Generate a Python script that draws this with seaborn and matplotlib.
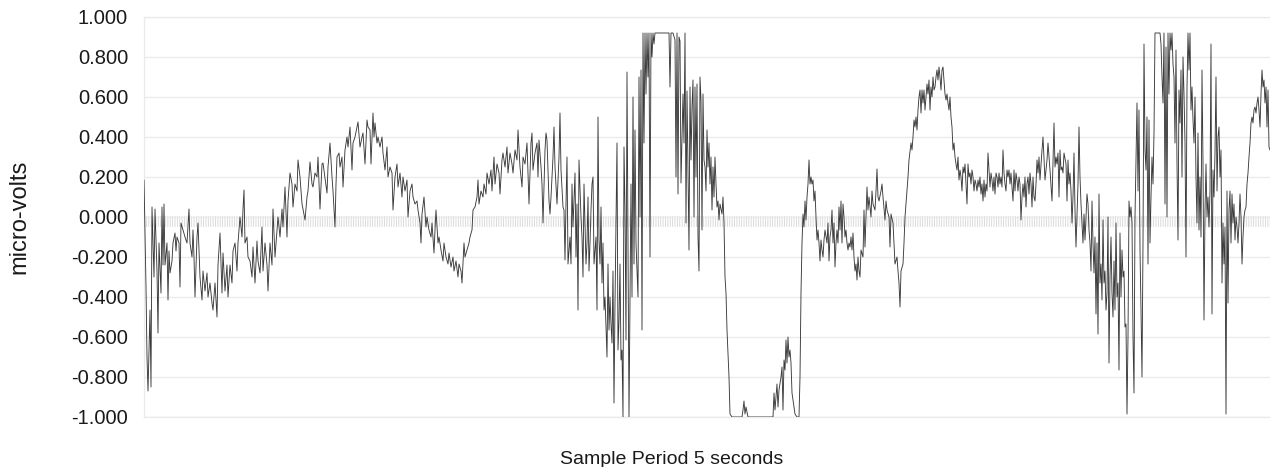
import numpy as np
import pandas as pd
import matplotlib
matplotlib.use("Agg")
import matplotlib.pyplot as plt
import seaborn as sns

# ---------------- data (sample index, micro-volts) ----------------
samples_a = [0,2,3,4,6,7,8,10,11,13,14,15,17,18,19,20,21,23,24,25,26,28,29,31,32,33,35,36,37,39,
             41,43,45,46,48,49,50,51,53,54,56,58,59,61,63,64,66,68,69,71,73,74,76,78,79,81,83,84,86,88,
             89,91,93,94,96,98,99,100,101,103,104,106,108,109,111,113,114,116,118,119,121,123,124,126,128,129,131,133,134,136,
             138,139,141,143,144,146,148,149,151,153,154,156,158,159,161,163,164,166,168,169,171,173,174,176,178]
volts_a = [0.185,-0.35,-0.70,-0.87,-0.465,-0.85,0.05,-0.30,0.04,-0.27,-0.58,-0.13,-0.38,0.05,-0.24,0.065,-0.24,-0.13,-0.415,-0.17,
           -0.28,-0.22,-0.13,-0.08,-0.17,-0.10,-0.13,-0.35,-0.03,-0.065,-0.10,-0.13,0.04,-0.13,-0.20,-0.065,-0.20,-0.40,-0.10,-0.03,
           -0.30,-0.415,-0.27,-0.37,-0.28,-0.40,-0.33,-0.43,-0.465,-0.33,-0.50,-0.24,-0.08,-0.38,-0.18,-0.37,-0.24,-0.40,-0.24,-0.33,
           -0.17,-0.13,-0.27,-0.13,0.0,-0.10,0.04,0.135,-0.13,-0.10,-0.20,-0.22,-0.30,-0.15,-0.33,-0.12,-0.22,-0.28,-0.05,-0.27,
           -0.13,-0.24,-0.37,-0.13,-0.24,0.04,-0.20,-0.065,0.0,-0.10,0.04,-0.05,0.15,-0.10,0.08,0.22,0.165,0.05,0.165,0.13,
           0.285,0.20,0.065,0.04,-0.015,0.10,0.13,0.275,0.165,0.15,0.22,0.20,0.30,0.04,0.265]

samples_b = [179,183,184,186,188,189,191,192,193,195,196,198,199,201,203,204,206,208,209,211,
             213,214,216,218,219,221,223,224,226,227,229,230,231,233,234,236,238,239,241,243,
             244,246,248,249,251,253,254,256,258,259,261,263,264,266,268,269,271,273,274,276,
             277,278,280,282,283,285,287,288,290,291,292,294,295,297,299,300,302,304,305,307,
             309,310,312,314,315,317,318,320,321,323,325,326,328,329,331,333,334,335,337,339,
             340,342,343,345,347,348,350,351,353,355,356]
volts_b = [0.27,0.12,0.25,0.37,0.20,0.13,-0.05,0.165,0.30,0.32,0.25,0.30,0.15,0.335,0.40,0.35,0.45,0.235,0.37,0.40,
           0.45,0.475,0.35,0.40,0.42,0.265,0.485,0.45,0.435,0.265,0.52,0.40,0.47,0.37,0.40,0.35,0.40,0.32,0.235,0.35,
           0.20,0.25,0.22,0.035,0.20,0.265,0.15,0.22,0.10,0.20,0.13,0.185,0.0,0.13,0.165,0.10,0.065,0.08,0.035,-0.03,
           -0.13,0.015,0.10,-0.05,0.0,-0.065,-0.10,-0.03,-0.18,-0.065,0.035,-0.13,-0.10,-0.165,-0.22,-0.13,-0.20,-0.235,-0.18,-0.25,
           -0.20,-0.27,-0.22,-0.30,-0.235,-0.27,-0.33,-0.13,-0.20,-0.165,-0.13,-0.10,-0.065,0.035,0.05,0.10,0.185,0.065,0.13,0.10,
           0.165,0.115,0.22,0.165,0.235,0.13,0.30,0.165,0.265,0.22,0.115]

samples_c = [358,359,361,363,364,366,368,369,371,373,374,376,378,379,381,383,384,385,387,388,
             389,391,393,394,395,397,398,399,401,402,403,405,406,407,409,410,411,413,414,415,
             416,417,419,420,421,422,423,424,426,427,428,429,431,432,433,434,435,437,438,439,
             440,442,443,444,445,446,447,448,449,450,452,453,454,455,456,457,458,459,460,461,
             463,464,465,466,467,468,469,470,471,473,474,475,476,477,478,479,480,481,482,483,
             484,485,486,487,488,489,490,491,492,494,495,496,497,498,499,500,501,502,503,504,
             505,506,507,508,509,510,511,516,521,525,526,527,529,531,532,533,534,535]
volts_c = [0.285,0.32,0.25,0.35,0.22,0.32,0.265,0.22,0.335,0.285,0.435,0.25,0.15,0.30,0.265,0.37,0.22,0.065,0.37,0.42,
           0.235,0.32,0.37,0.20,0.385,0.25,0.165,-0.03,0.335,0.42,0.385,0.08,0.015,0.10,0.30,0.45,0.25,0.065,0.185,0.30,
           0.52,0.235,0.05,0.035,-0.215,0.065,0.30,-0.235,-0.10,-0.235,0.165,-0.05,0.22,-0.20,0.065,-0.465,0.285,0.0,-0.10,-0.30,
           0.165,-0.235,-0.13,0.10,-0.27,-0.13,0.035,0.165,0.20,-0.235,-0.10,-0.465,0.50,-0.115,-0.235,0.05,-0.33,-0.13,-0.465,-0.40,
           -0.70,-0.235,-0.565,-0.40,-0.535,-0.63,-0.27,-0.93,-0.43,0.37,-0.665,-0.515,-0.235,-0.715,-0.665,-1.0,0.35,0.035,-0.615,0.725,
           -0.13,-1.0,-0.40,0.165,-0.40,0.60,-0.235,0.435,-0.13,-0.40,0.70,0.0,0.735,-0.565,0.92,0.37,0.92,0.615,0.92,0.70,
           0.92,-0.20,0.92,0.80,0.92,0.865,0.92,0.92,0.92,0.92,0.65,0.92,0.92,0.885,0.20,0.92,0.115,0.90]

samples_d = [536,537,539,540,541,542,543,545,546,547,548,549,550,551,552,553,554,555,556,557,
             558,559,560,561,562,563,564,565,566,567,568,569,570,571,572,573,574,575,576,578,
             579,580,581,582,583,585,586,588,598,599,600,601,602,604,629,630,631,633,634,635,
             637,638,639,640,641,642,643,644,645,646,647,648,649,651,653,655,656,657,658,659,
             660,661,662,663,664,665,666,667,668,669,670,671,672,673,674,675,676,677,678,679,
             680,681,683,684,685,686,687,688,689,690,691,692,693,694,695,696,697,698,699,700,
             701,702,703,704,705,706,707,708,709,710,711,712,713,714,715,716]
volts_d = [0.88,0.17,0.615,0.37,0.92,-0.03,0.63,-0.165,0.65,0.285,0.55,0.685,0.0,0.65,0.20,0.665,-0.10,-0.27,0.70,0.585,
           -0.065,0.615,0.285,0.25,0.13,0.435,0.25,0.37,0.165,0.30,0.035,0.25,0.10,0.30,0.165,0.05,0.08,-0.015,0.065,0.015,
           0.10,-0.03,-0.30,-0.38,-0.565,-0.80,-0.985,-1.0,-1.0,-0.965,-0.92,-0.985,-0.95,-1.0,-1.0,-0.88,-0.965,-0.835,-0.95,-0.865,
           -0.80,-0.75,-0.965,-0.715,-0.765,-0.615,-0.73,-0.60,-0.70,-0.665,-0.73,-0.88,-0.915,-0.985,-1.0,-1.0,-0.80,-0.38,-0.13,0.015,
           -0.05,0.08,-0.015,0.10,0.165,0.285,0.165,0.20,0.165,0.185,0.08,0.13,0.0,-0.115,-0.065,-0.13,-0.22,-0.115,-0.165,-0.20,
           -0.115,-0.065,-0.13,-0.03,-0.22,-0.10,-0.065,0.035,-0.13,-0.03,-0.25,-0.13,-0.065,-0.13,0.05,-0.065,0.08,-0.13,0.065,0.0,
           -0.10,-0.065,-0.13,-0.165,-0.13,-0.15,-0.10,-0.165,-0.08,-0.20,-0.27,-0.235,-0.315,-0.20,-0.27,-0.30]

samples_e = [717,719,720,721,723,724,725,727,728,729,731,732,733,734,735,737,738,739,741,742,
             743,745,746,747,749,750,751,753,754,755,756,757,759,760,761,763,764,765,767] + list(range(768, 897))
volts_e = [-0.165,-0.20,0.035,-0.15,0.15,0.035,0.10,0.0,0.13,0.065,0.035,0.13,0.24,0.10,0.08,0.13,0.165,0.10,-0.015,0.08,
           0.035,0.0,-0.15,0.015,-0.03,-0.13,-0.235,-0.20,-0.27,-0.33,-0.45,-0.27,-0.235,-0.13,0.0,0.13,0.20,0.285,0.37,
           0.335,0.40,0.485,0.45,0.50,0.435,0.535,0.60,0.635,0.52,
           0.635,0.57,0.635,0.535,0.60,0.665,0.615,0.685,0.535,0.65,
           0.60,0.70,0.635,0.65,0.70,0.735,0.685,0.75,0.70,0.635,
           0.735,0.75,0.685,0.615,0.585,0.615,0.57,0.535,0.60,0.50,
           0.45,0.335,0.37,0.30,0.265,0.235,0.30,0.185,0.235,0.20,
           0.13,0.25,0.22,0.265,0.165,0.065,0.265,0.20,0.22,0.165,
           0.235,0.20,0.13,0.185,0.165,0.13,0.185,0.15,0.20,0.115,
           0.165,0.08,0.185,0.10,0.165,0.13,0.32,0.235,0.15,0.22,
           0.185,0.13,0.20,0.115,0.22,0.20,0.15,0.22,0.165,0.20,
           0.15,0.335,0.22,0.165,0.13,0.235,0.20,0.235,0.165,0.22,
           0.15,0.08,0.235,0.13,0.22,0.185,0.13,0.20,0.165,-0.015,
           0.10,0.165,0.10,0.20,0.05,0.165,0.20,0.115,0.22,0.165,
           0.05,0.20,0.10,0.08,0.165,0.285,0.22,0.30,0.185]

samples_f = [898,899,901,903,904,906,908,909,910,911,912,913,914,915,916,917,918,919,920,922] \
            + list(range(923, 1012)) + [1013] + list(range(1016, 1127))
volts_f = [0.335,0.40,0.185,0.285,0.37,0.235,0.08,0.285,0.47,0.25,0.30,0.265,0.32,0.10,0.335,0.235,0.25,0.22,0.32,0.265,
           0.08,0.285,0.165,0.22,0.13,-0.03,0.10,0.32,0.035,-0.15,
           0.0,0.165,0.45,0.20,0.065,-0.03,-0.13,0.015,-0.115,0.0,
           0.115,0.065,-0.065,-0.13,-0.27,0.08,-0.13,-0.28,-0.10,-0.485,
           -0.13,-0.585,0.115,-0.33,-0.235,-0.415,-0.015,-0.33,-0.27,-0.465,
           -0.38,0.0,-0.73,-0.30,-0.10,-0.38,-0.50,-0.22,-0.465,-0.03,
           -0.40,-0.33,-0.765,-0.08,-0.40,-0.165,-0.30,-0.27,-0.55,-0.535,
           -0.985,-0.60,0.08,0.0,0.05,-0.03,-0.60,-0.88,0.0,0.285,
           0.57,0.13,0.535,-0.165,-0.465,-0.80,-0.13,0.865,0.335,0.235,
           0.50,-0.235,0.485,-0.13,0.10,0.30,0.165,0.42,0.92,
           0.92,
           0.92,0.865,0.70,0.57,0.92,0.065,0.85,0.0,0.92,0.615,
           0.92,0.835,0.92,0.765,0.70,0.37,0.835,0.265,-0.115,0.635,
           0.47,0.735,0.20,0.80,0.615,0.37,-0.20,0.65,0.92,0.735,
           0.92,0.535,0.65,0.485,0.37,0.60,0.20,-0.03,0.42,-0.065,
           0.20,-0.10,0.735,0.265,-0.515,0.035,0.265,0.0,0.10,-0.05,
           0.13,0.865,-0.485,0.235,0.10,0.32,0.70,0.13,0.40,0.45,
           0.20,0.335,-0.33,-0.03,-0.235,-0.05,-0.985,0.13,-0.43,0.035,
           0.13,-0.13,0.115,-0.03,0.065,-0.115,0.0,-0.05,-0.13,-0.03,
           0.115,0.0,-0.235,-0.10,0.0,0.035,0.05,0.165,0.22,0.30,
           0.37,0.47,0.50,0.47,0.535,0.55,0.52,0.57,0.60,0.535,
           0.45,0.615,0.735,0.65,0.685,0.57,0.65,0.45,0.635,0.35,
           0.335]

ytick_values = [-1.0, -0.8, -0.6, -0.4, -0.2, 0.0, 0.2, 0.4, 0.6, 0.8, 1.0]
ytick_labels = ["-1.000", "-0.800", "-0.600", "-0.400", "-0.200", "0.000",
                "0.200", "0.400", "0.600", "0.800", "1.000"]
y_title = "micro-volts"
x_title = "Sample Period 5 seconds"

pairs = [(samples_a, volts_a), (samples_b, volts_b), (samples_c, volts_c),
         (samples_d, volts_d), (samples_e, volts_e), (samples_f, volts_f)]
n = [min(len(s), len(v)) for s, v in pairs]
df = pd.DataFrame({
    "sample": np.concatenate([np.asarray(s[:k]) for (s, v), k in zip(pairs, n)]),
    "microvolts": np.concatenate([np.asarray(v[:k]) for (s, v), k in zip(pairs, n)]),
})

# ---------------- style ----------------
sns.set_style("white")
plt.rcParams["font.family"] = ["Liberation Sans", "DejaVu Sans"]
plt.rcParams["axes.unicode_minus"] = False
plt.rcParams["hatch.linewidth"] = 0.6

W, H = 1270, 467
fig = plt.figure(figsize=(W / 100, H / 100), dpi=100)
ax = fig.add_axes([144 / W, 50 / H, 1126 / W, 400 / H])

grid_c = "#ebebeb"
ax.axhspan(-0.05, 0.005, facecolor="none", edgecolor="#d6d6d6",
           hatch="|" * 7, linewidth=0, zorder=0.5)

sns.lineplot(data=df, x="sample", y="microvolts", ax=ax, color="#3a3a3a",
             linewidth=0.65, estimator=None, sort=False, zorder=3)

ax.set_xlim(0, 1126)
ax.set_ylim(-1.0, 1.0)
ax.set_yticks(ytick_values)
ax.set_yticklabels(ytick_labels)
ax.set_xticks([])
ax.yaxis.grid(True, color=grid_c, linewidth=1.0)
ax.set_axisbelow(True)
ax.tick_params(axis="y", length=6.5, width=1.0, color=grid_c, pad=5,
               labelsize=14.5, labelcolor="#1a1a1a")
for side in ["top", "bottom", "left"]:
    ax.spines[side].set_color(grid_c)
    ax.spines[side].set_linewidth(1.0)
ax.spines["right"].set_visible(False)
ax.set_xlabel("")
ax.set_ylabel("")

fig.text(19 / W, 1 - 217 / H, y_title, rotation=90, ha="center", va="center",
         fontsize=17, color="#1a1a1a")
fig.text(672 / W, 1 - 459 / H, x_title, ha="center", va="center",
         fontsize=14, color="#1a1a1a")

fig.savefig("out.png", dpi=100)
